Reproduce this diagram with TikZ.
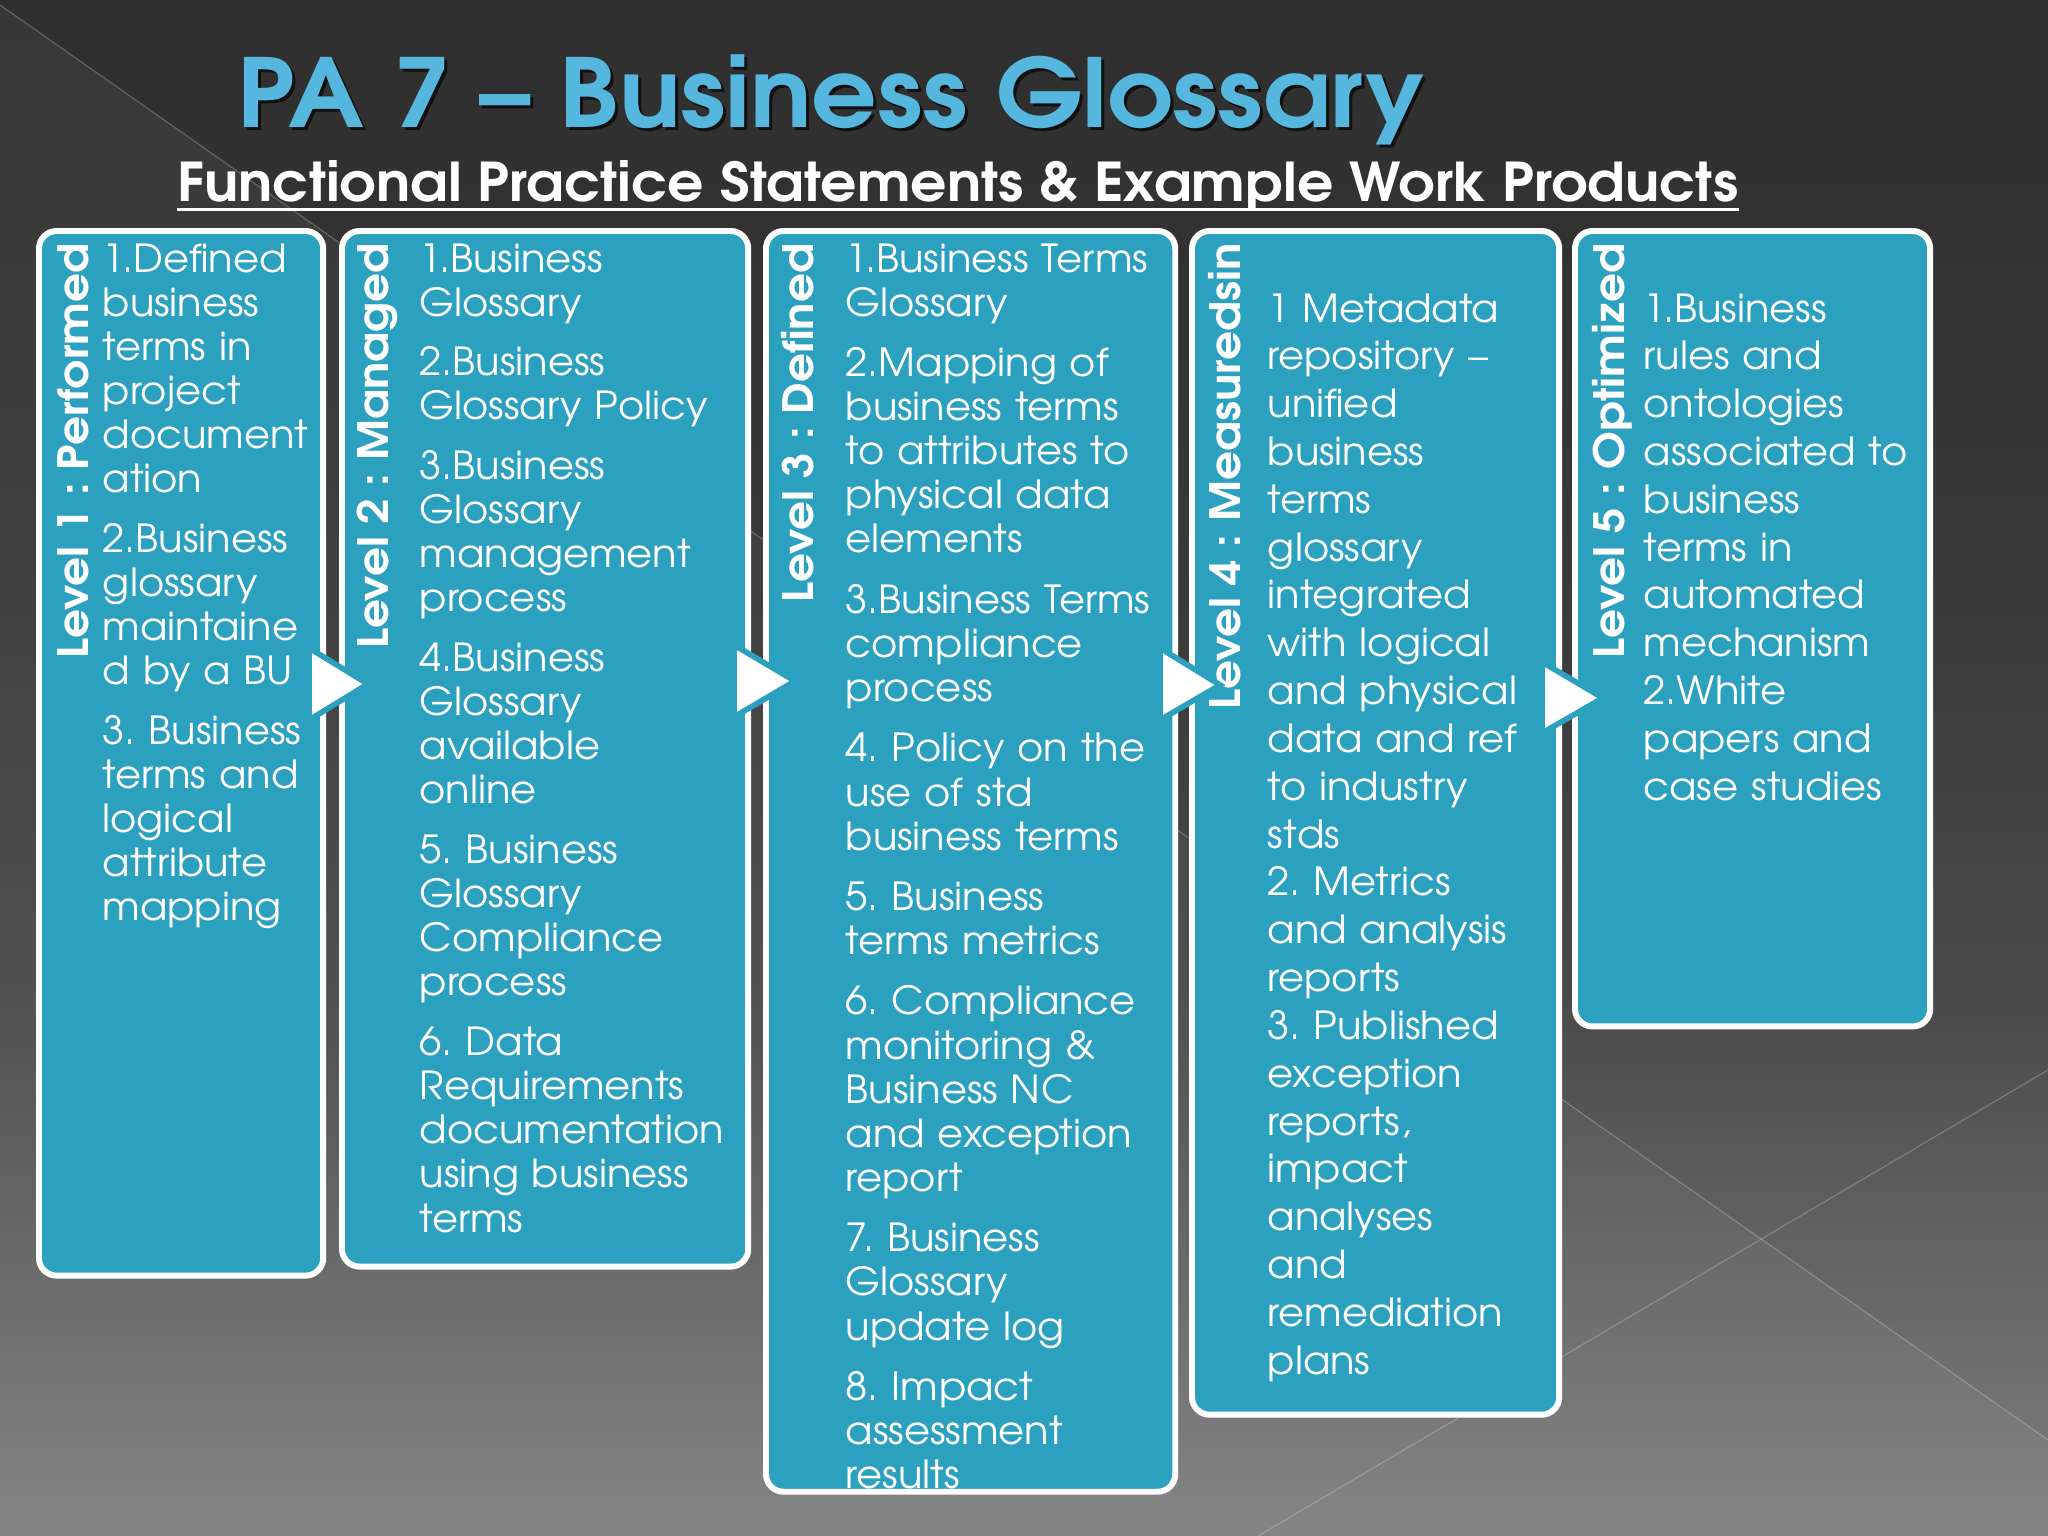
\documentclass[tikz,border=0pt]{standalone}
\usepackage{fontspec}
\setmainfont{texgyreadventor}[Extension=.otf, UprightFont=*-regular, BoldFont=*-bold, ItalicFont=*-italic, BoldItalicFont=*-bolditalic]
\definecolor{panelblue}{RGB}{44,160,191}
\definecolor{titleblue}{RGB}{86,183,222}
\definecolor{bgA}{RGB}{47,47,47}
\definecolor{bgB}{RGB}{51,51,51}
\definecolor{bgC}{RGB}{58,58,58}
\definecolor{bgD}{RGB}{74,74,74}
\definecolor{bgE}{RGB}{104,104,104}
\definecolor{bgF}{RGB}{128,128,128}
\begin{document}
\frenchspacing
\begin{tikzpicture}[x=0.01cm,y=-0.01cm,
  panel/.style={draw=white, line width=1.7pt, fill=panelblue, rounded corners=5pt, inner sep=0, anchor=north west},
  body/.style={text=white, anchor=base west, inner sep=0, text width=4.6cm, align=left, font=\fontsize{11pt}{12.55pt}\selectfont\addfontfeatures{FakeStretch=1.035}\frenchspacing},
  bodywide/.style={body, font=\fontsize{11pt}{13.6pt}\selectfont\addfontfeatures{FakeStretch=1.035}\frenchspacing},
  lvl/.style={text=white, rotate=90, anchor=base east, inner sep=0, font=\bfseries\fontsize{11.9pt}{14pt}\selectfont\addfontfeatures{FakeStretch=1.085}},
  tri/.style={fill=white, draw=panelblue, line width=1.6pt, line join=miter},
  bgline/.style={draw=white, draw opacity=0.22, line width=0.35pt},
  titlestyle/.style={anchor=base west, inner sep=0, font=\bfseries\fontsize{27pt}{32pt}\selectfont\addfontfeatures{FakeStretch=1.08}}]

\useasboundingbox (0,0) rectangle (2048,1536);

% background
\shade[top color=bgA, bottom color=bgB] (0,0) rectangle (2048,301);
\shade[top color=bgB, bottom color=bgC] (0,300) rectangle (2048,601);
\shade[top color=bgC, bottom color=bgD] (0,600) rectangle (2048,1001);
\shade[top color=bgD, bottom color=bgE] (0,1000) rectangle (2048,1301);
\shade[top color=bgE, bottom color=bgF] (0,1300) rectangle (2048,1536);
\fill[white, opacity=0.04] (0,5) -- (2048,1440) -- (2048,1536) -- (0,1536) -- cycle;
\draw[bgline] (0,5) -- (2048,1440);
\draw[bgline] (1258,1536) -- (2048,1070);

% title
\node[titlestyle, text=black, opacity=0.65] (titleshadow) at (240,130) {PA 7 – Business Glossary};
\node[titlestyle, text=titleblue] (title) at (237,127) {PA 7 – Business Glossary};
\node[anchor=base west, inner sep=0, text=white, font=\bfseries\fontsize{15.2pt}{17pt}\selectfont\addfontfeatures{FakeStretch=1.065}] (sub) at (177,201) {Functional Practice Statements \& Example Work Products};
\draw[white, line width=1.1pt] ([yshift=-2.4pt]sub.base west) -- ([yshift=-2.4pt]sub.base east);

% panels
\node[panel, minimum width=2.84cm, minimum height=10.44cm] (b1) at (36,228) {};
\node[panel, minimum width=4.06cm, minimum height=10.35cm] (b2) at (339,228) {};
\node[panel, minimum width=4.09cm, minimum height=12.60cm] (b3) at (763,228) {};
\node[panel, minimum width=3.67cm, minimum height=11.83cm] (b4) at (1189,228) {};
\node[panel, minimum width=3.55cm, minimum height=7.95cm] (b5) at (1572,228) {};

% level labels
\node[lvl] (l1) at (88,243) {Level 1 : Performed};
\node[lvl] (l2) at (388,243) {Level 2 : Managed};
\node[lvl] (l3) at (813,243) {Level 3 : Defined};
\node[lvl] (l4) at (1240,243) {Level 4 : Measuredsin};
\node[lvl] (l5) at (1624,243) {Level 5 : Optimized};

% texts
\node[body] (t1) at (102,272) {1.Defined\\ business\\ terms in\\ project\\ document\\ ation\\[4.4pt]
2.Business\\ glossary\\ maintaine\\ d by a BU\\[4.4pt]
3. Business\\ terms and\\ logical\\ attribute\\ mapping};

\node[body] (t2) at (419,272) {1.Business\\ Glossary\\[4.4pt]
2.Business\\ Glossary Policy\\[4.4pt]
3.Business\\ Glossary\\ management\\ process\\[4.4pt]
4.Business\\ Glossary\\ available\\ online\\[4.4pt]
5. Business\\ Glossary\\ Compliance\\ process\\[4.4pt]
6. Data\\ Requirements\\ documentation\\ using business\\ terms};

\begin{scope}
\clip[rounded corners=4pt] ([shift={(0.85pt,-0.85pt)}]b3.north west) rectangle ([shift={(-0.85pt,0.85pt)}]b3.south east);
\node[body] (t3) at (845,272) {1.Business Terms\\ Glossary\\[4.6pt]
2.Mapping of\\ business terms\\ to attributes to\\ physical data\\ elements\\[4.6pt]
3.Business Terms\\ compliance\\ process\\[4.6pt]
4. Policy on the\\ use of std\\ business terms\\[4.6pt]
5. Business\\ terms metrics\\[4.6pt]
6. Compliance\\ monitoring \&\\ Business NC\\ and exception\\ report\\[4.6pt]
7. Business\\ Glossary\\ update log\\[4.6pt]
8. Impact\\ assessment\\ results};
\end{scope}

\node[bodywide] (t4) at (1267,322) {1 Metadata\\ repository –\\ unified\\ business\\ terms\\ glossary\\ integrated\\ with logical\\ and physical\\ data and ref\\ to industry\\ stds\\ 2. Metrics\\ and analysis\\ reports\\ 3. Published\\ exception\\ reports,\\ impact\\ analyses\\ and\\ remediation\\ plans};

\node[bodywide] (t5) at (1643,322) {1.Business\\ rules and\\ ontologies\\ associated to\\ business\\ terms in\\ automated\\ mechanism\\ 2.White\\ papers and\\ case studies};

% arrows between panels
\filldraw[tri] (309,648) -- (309,720) -- (368,684) -- cycle;
\filldraw[tri] (734,645) -- (734,717) -- (795,681) -- cycle;
\filldraw[tri] (1160,648) -- (1160,720) -- (1220,685) -- cycle;
\filldraw[tri] (1542,662) -- (1542,733) -- (1603,698) -- cycle;
\end{tikzpicture}
\end{document}
